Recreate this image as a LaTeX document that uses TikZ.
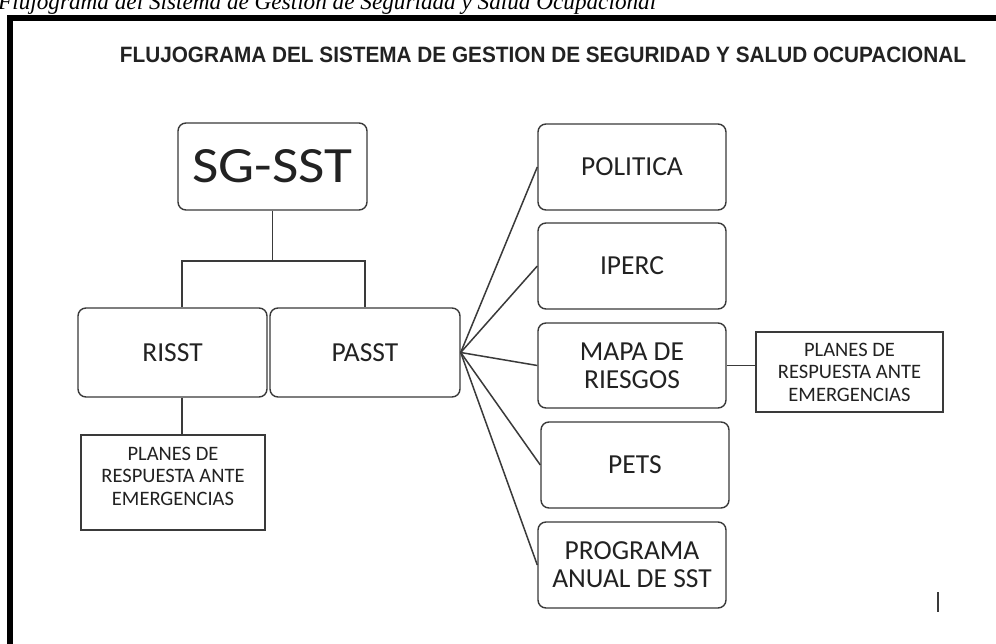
\documentclass[tikz,border=0pt]{standalone}
\usepackage{fontspec}
\setmainfont{Liberation Serif}
\newfontfamily\calfont{Carlito}
\newfontfamily\arialfont{Liberation Sans}
\usetikzlibrary{calc}
\definecolor{edgecol}{HTML}{3A3A3A}
\definecolor{txtcol}{HTML}{222222}
\tikzset{
  rbox/.style={draw=edgecol, line width=1.4pt, rounded corners=8pt, inner sep=0pt,
    align=center, text=txtcol, font=\calfont\fontsize{27.5}{28}\selectfont},
  sbox/.style={draw=edgecol, line width=1.4pt, inner sep=0pt,
    align=center, text=txtcol, font=\calfont\fontsize{20.5}{22.5}\selectfont},
  conn/.style={draw=edgecol, line width=1.5pt},
}
\begin{document}
\begin{tikzpicture}[x=1pt,y=-1pt]
\useasboundingbox (0,0) rectangle (996,644);
\clip (0,0) rectangle (996,644);
\fill[white] (0,0) rectangle (996,644);
% caption (cut at the top)
\node[anchor=base west, inner sep=0pt, text=black] (cap) at (-2,10)
  {\resizebox{658pt}{!}{\itshape Flujograma del Sistema de Gestión de Seguridad y Salud Ocupacional}};
% frame
\draw[line width=5.5pt] (10,650) -- (10,18) -- (1000,18);
% title
\node[inner sep=0pt, text=txtcol] (title) at (543,55)
  {\resizebox{846pt}{15.5pt}{\arialfont\bfseries FLUJOGRAMA DEL SISTEMA DE GESTION DE SEGURIDAD Y SALUD OCUPACIONAL}};
% boxes
\node[rbox, minimum width=189pt, minimum height=87pt] (sg) at (272.5,166.5) {\resizebox{160pt}{33pt}{SG-SST}};
\node[rbox, minimum width=189pt, minimum height=89pt] (risst) at (172.5,352.5) {RISST};
\node[rbox, minimum width=190pt, minimum height=89pt] (passt) at (365,352.5) {PASST};
\node[sbox, minimum width=184pt, minimum height=95pt] (planesL) at (173,482.5) {PLANES DE\\RESPUESTA ANTE\\EMERGENCIAS\\[-0.8em]\strut};
\node[rbox, minimum width=188pt, minimum height=86pt] (politica) at (632,167) {POLITICA};
\node[rbox, minimum width=188pt, minimum height=86pt] (iperc) at (632,266) {IPERC};
\node[rbox, minimum width=188pt, minimum height=85pt] (mapa) at (632,365.5) {MAPA DE\\RIESGOS};
\node[rbox, minimum width=188pt, minimum height=86pt] (pets) at (635,465) {PETS};
\node[rbox, minimum width=188pt, minimum height=86pt] (programa) at (632,565) {PROGRAMA\\ANUAL DE SST};
\node[sbox, minimum width=187pt, minimum height=80pt] (planesR) at (849.5,372) {PLANES DE\\RESPUESTA ANTE\\EMERGENCIAS};
% tree connectors
\coordinate (hl) at (182,261);
\coordinate (hr) at (365,261);
\coordinate (hm) at (272.5,261);
\draw[conn] (sg.south) -- (hm);
\draw[conn] (risst.north -| hl) -- (hl) -- (hr) -- (passt.north -| hr);
\draw[conn] (risst.south -| hl) -- (planesL.north -| hl);
% fan
\foreach \t in {politica,iperc,mapa,pets,programa}
  \draw[conn] (passt.east) -- (\t.west);
\draw[conn] (mapa.east) -- (mapa.east -| planesR.west);
% cursor mark
\coordinate (bar1) at (938,592);
\coordinate (bar2) at (938,612);
\draw[line width=1.3pt, edgecol] (bar1) -- (bar2);
\end{tikzpicture}
\end{document}
